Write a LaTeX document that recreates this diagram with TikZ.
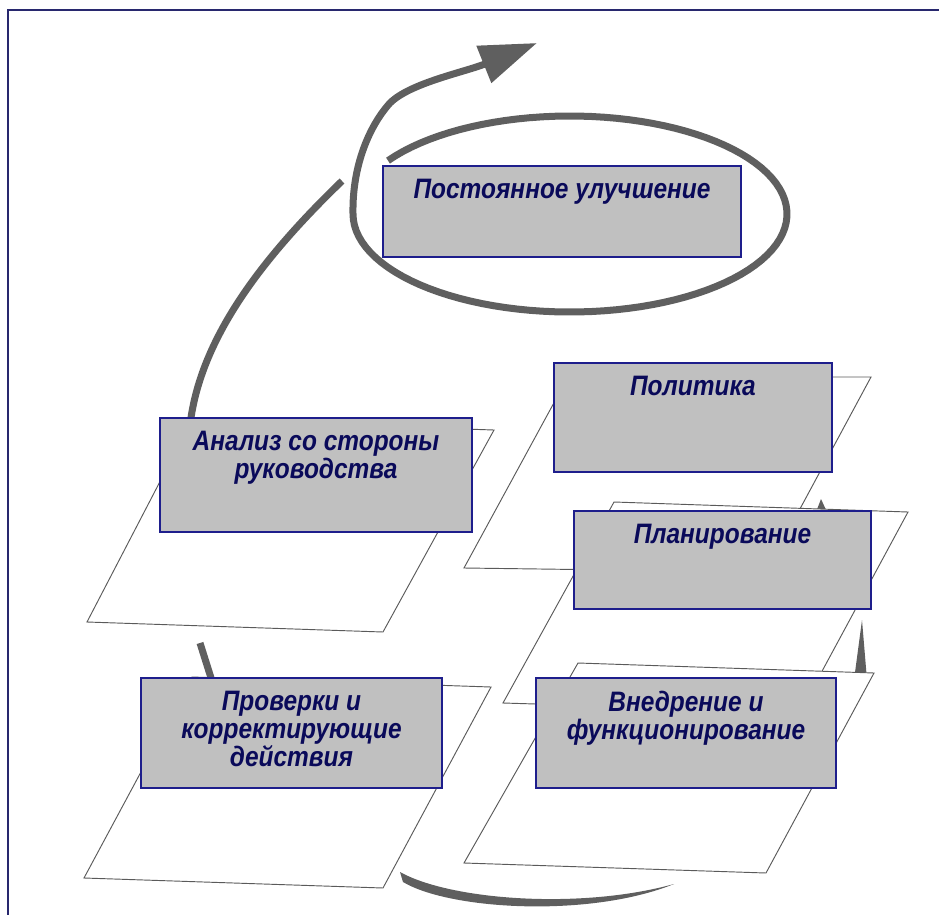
\documentclass[tikz,border=0pt]{standalone}
\usepackage{fontspec}
\setmainfont[FakeStretch=0.87]{Liberation Sans}
\usepackage{xcolor}
\usepackage{tikz}
\usetikzlibrary{positioning, fit, arrows.meta}

\definecolor{framecol}{RGB}{40,40,110}
\definecolor{boxfill}{RGB}{192,192,192}
\definecolor{boxline}{RGB}{30,30,140}
\definecolor{textcol}{RGB}{10,10,90}
\definecolor{arrowcol}{RGB}{95,95,95}
\definecolor{sheetline}{RGB}{90,90,90}

\begin{document}
\begin{tikzpicture}[
    x=0.03cm, y=-0.03cm,
    box/.style={rectangle, draw=boxline, fill=boxfill, line width=0.9pt, inner sep=0pt},
    lbl/.style={text=textcol, font=\fontsize{24}{24}\selectfont\bfseries\itshape, align=center, inner sep=0pt},
    sheet/.style={draw=sheetline, fill=white, line width=0.8pt},
    spiral/.style={draw=arrowcol, line width=0.21cm},
    flow/.style={fill=arrowcol}
]
\useasboundingbox (0,0) rectangle (939,915);
\clip (0,0) rectangle (939,915);
\draw[framecol, line width=1.6pt] (8,10) rectangle (960,940);

% improvement spiral
\draw[spiral] (190,425) .. controls (200,340) and (260,260) .. (342,181);
\draw[spiral, -{Triangle[length=1.72cm, width=1.15cm]}]
  plot[domain=-147:180, samples=100] ({570+217*cos(\x)}, {214+98*sin(\x)})
  .. controls (352,165) and (370,125) .. (390,103)
  .. controls (410,83) and (465,72) .. (537,43);
\node[box, fit={(383,166) (741,257)}] (post) {};
\node[lbl, below=0.39cm of post.north] (postt) {Постоянное улучшение};

% left column
\draw[spiral] (200,643) -- (212,681);
\draw[sheet] (192,420) -- (494,430) -- (383,632) -- (87,622) -- cycle;
\node[box, fit={(160,418) (472,532)}] (review) {};
\node[lbl, below=0.39cm of review.north] (reviewt) {Анализ со стороны\\руководства};

\fill[flow] (400,872) .. controls (450,900) and (580,910) .. (674,884)
  .. controls (590,918) and (450,910) .. (403,882) -- cycle;
\draw[sheet] (192,677) -- (491,687) -- (383,888) -- (84,878) -- cycle;
\node[box, fit={(141,678) (442,788)}] (check) {};
\node[lbl, below=0.39cm of check.north] (checkt) {Проверки и\\корректирующие\\действия};

% right column
\draw[sheet] (568,377) -- (871,377) -- (766,572) -- (464,568) -- cycle;
\node[box, fit={(554,363) (832,472)}] (policy) {};
\node[lbl, below=0.39cm of policy.north] (policyt) {Политика};

\fill[flow] (816,512) -- (821,499) -- (827,512) -- cycle;
\draw[sheet] (614,502) -- (908,512) -- (800,712) -- (503,703) -- cycle;
\node[box, fit={(574,511) (871,609)}] (plan) {};
\node[lbl, below=0.39cm of plan.north] (plant) {Планирование};

\fill[flow] (862,620) -- (867,680) -- (854,680) -- cycle;
\draw[sheet] (578,663) -- (874,673) -- (766,873) -- (464,863) -- cycle;
\node[box, fit={(536,678) (836,788)}] (impl) {};
\node[lbl, below=0.39cm of impl.north] (implt) {Внедрение и\\функционирование};

\end{tikzpicture}
\end{document}
